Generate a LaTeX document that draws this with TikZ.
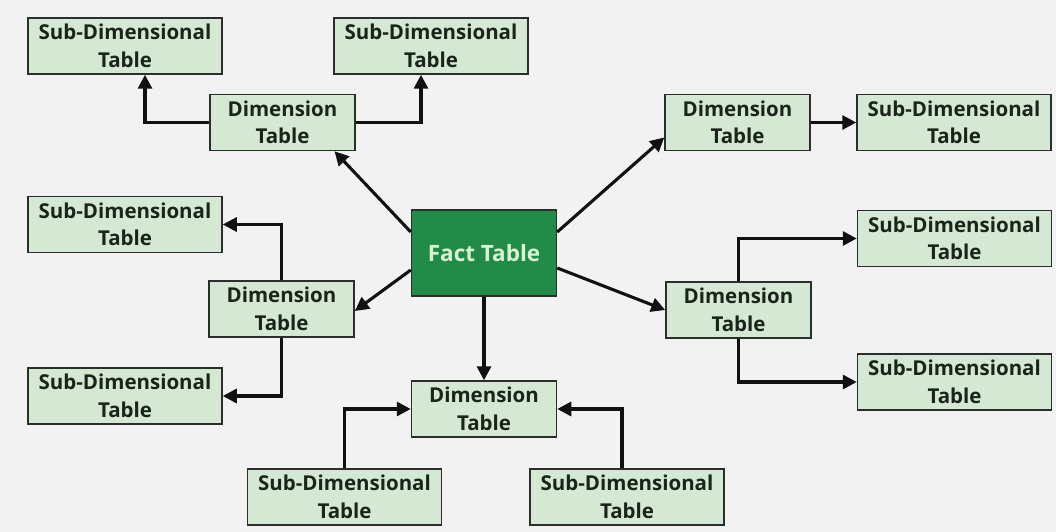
\documentclass[tikz,border=0pt]{standalone}
\usepackage{fontspec}
\setmainfont{Open Sans}
\usetikzlibrary{arrows.meta}
\definecolor{bgcol}{HTML}{F2F2F2}
\definecolor{boxfill}{HTML}{D5E8D4}
\definecolor{boxline}{HTML}{2B2F2B}
\definecolor{factfill}{HTML}{218B47}
\definecolor{facttext}{HTML}{D8F2D3}
\definecolor{ink}{HTML}{1A241A}
\definecolor{wire}{HTML}{111111}
\tikzset{
  tbl/.style={draw=boxline, line width=1.5pt, fill=boxfill, text=ink,
    font=\fontsize{20.5}{27.5}\selectfont\bfseries, align=center,
    inner sep=0pt, minimum height=56pt},
  subtbl/.style={tbl, minimum width=194pt},
  dimtbl/.style={tbl, minimum width=145pt},
  facttbl/.style={draw=boxline, line width=1.5pt, fill=factfill, text=facttext,
    font=\fontsize{22.5}{27}\selectfont\bfseries, inner sep=0pt,
    minimum width=145pt, minimum height=86pt},
  link/.style={draw=wire, line width=3.1pt,
    -{Triangle[length=14pt,width=14pt]}}
}
\begin{document}
\begin{tikzpicture}[x=1pt,y=-1pt]
  \fill[bgcol] (0,0) rectangle (1056,532);
  \useasboundingbox (0,0) rectangle (1056,532);

  % central fact table
  \node[facttbl] (fact) at (484,253) {Fact Table};

  % dimension tables
  \node[dimtbl] (dtl) at (282.5,122.5) {Dimension\\Table};
  \node[dimtbl] (dtr) at (737.5,122.5) {Dimension\\Table};
  \node[dimtbl] (dml) at (281.5,309) {Dimension\\Table};
  \node[dimtbl] (dmr) at (738.5,310) {Dimension\\Table};
  \node[dimtbl] (db)  at (484,409) {Dimension\\Table};

  % sub-dimensional tables
  \node[subtbl] (stl)  at (125,46)    {Sub-Dimensional\\Table};
  \node[subtbl] (stm)  at (431,46)    {Sub-Dimensional\\Table};
  \node[subtbl] (str)  at (954,122.5) {Sub-Dimensional\\Table};
  \node[subtbl] (sml1) at (125,224.5) {Sub-Dimensional\\Table};
  \node[subtbl] (sml2) at (125,396)   {Sub-Dimensional\\Table};
  \node[subtbl] (smr1) at (954.5,238.5) {Sub-Dimensional\\Table};
  \node[subtbl] (smr2) at (954.5,382) {Sub-Dimensional\\Table};
  \node[subtbl] (sbl)  at (344.5,497) {Sub-Dimensional\\Table};
  \node[subtbl] (sbr)  at (627,497)   {Sub-Dimensional\\Table};

  % fact table to dimension tables
  \draw[link] ([yshift=21pt]fact.west) -- ([xshift=52pt]dtl.south);
  \draw[link] ([yshift=21pt]fact.east) -- ([yshift=-15pt]dtr.west);
  \draw[link] ([yshift=-17pt]fact.west) -- ([yshift=-2pt]dml.east);
  \draw[link] ([yshift=-15pt]fact.east) -- (dmr.west);
  \draw[link] (fact.south) -- (db.north);

  % dimension tables to sub-dimensional tables
  \draw[link] (dtl.west) -| ([xshift=20pt]stl.south);
  \draw[link] (dtl.east) -| ([xshift=-10pt]stm.south);
  \draw[link] (dtr.east) -- (str.west);
  \draw[link] (dml.north) |- (sml1.east);
  \draw[link] (dml.south) |- (sml2.east);
  \draw[link] (dmr.north) |- (smr1.west);
  \draw[link] (dmr.south) |- (smr2.west);
  \draw[link] (sbl.north) |- (db.west);
  \draw[link] ([xshift=-5pt]sbr.north) |- (db.east);
\end{tikzpicture}
\end{document}
